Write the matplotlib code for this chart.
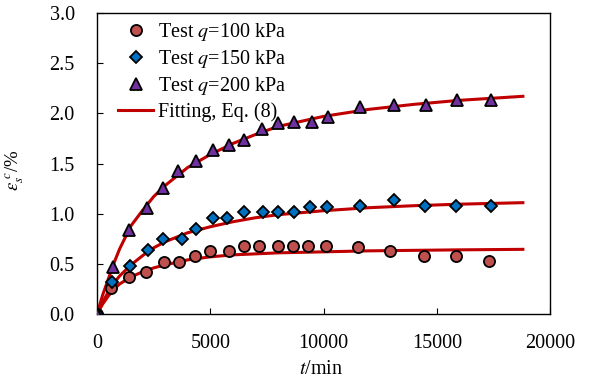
import matplotlib
matplotlib.use("Agg")
import matplotlib.pyplot as plt

plt.rcParams['font.family'] = ['Liberation Serif', 'DejaVu Serif']
plt.rcParams['mathtext.fontset'] = 'stix'

# Test data (t in min, strain in %)
t_100 = [0, 630, 1390, 2180, 2950, 3620, 4310, 4980, 5820, 6500, 7160, 7970, 8640, 9330, 10100, 11540, 12940, 14420, 15860, 17320]
e_100 = [0, 0.26, 0.37, 0.42, 0.52, 0.52, 0.58, 0.63, 0.63, 0.68, 0.68, 0.68, 0.68, 0.68, 0.68, 0.67, 0.63, 0.58, 0.58, 0.525]

t_150 = [0, 660, 1470, 2250, 2910, 3750, 4390, 5100, 5760, 6500, 7310, 7970, 8710, 9400, 10170, 11590, 13120, 14460, 15860, 17400]
e_150 = [0, 0.32, 0.48, 0.64, 0.745, 0.745, 0.85, 0.955, 0.955, 1.02, 1.02, 1.02, 1.02, 1.07, 1.07, 1.08, 1.137, 1.08, 1.08, 1.08]

t_200 = [0, 700, 1390, 2190, 2910, 3590, 4360, 5100, 5820, 6480, 7280, 8000, 8710, 9490, 10190, 11620, 13090, 14520, 15900, 17400]
e_200 = [0, 0.47, 0.84, 1.06, 1.26, 1.43, 1.53, 1.63, 1.68, 1.73, 1.84, 1.90, 1.91, 1.91, 1.96, 2.06, 2.08, 2.08, 2.13, 2.13]

# Fitting curves
t_fit = [0, 250, 500, 750, 1000, 1500, 2000, 2500, 3000, 4000, 5000, 6000, 7000, 8000, 10000, 12000, 14000, 16000, 18800]
f_100 = [0, 0.10, 0.18, 0.25, 0.30, 0.37, 0.42, 0.46, 0.49, 0.54, 0.57, 0.59, 0.60, 0.61, 0.62, 0.63, 0.635, 0.64, 0.645]
f_150 = [0, 0.12, 0.22, 0.31, 0.38, 0.49, 0.58, 0.66, 0.72, 0.81, 0.87, 0.92, 0.96, 0.99, 1.03, 1.06, 1.08, 1.095, 1.11]
f_200 = [0, 0.19, 0.35, 0.51, 0.65, 0.88, 1.03, 1.17, 1.28, 1.46, 1.59, 1.70, 1.79, 1.87, 1.97, 2.04, 2.09, 2.13, 2.17]

fig = plt.figure(figsize=(5.93, 3.83), dpi=100)
ax = fig.add_axes([0.1636, 0.180, 0.764, 0.786])

line_c = '#C00000'
ax.plot(t_fit, f_100, color=line_c, lw=2.2, zorder=2)
ax.plot(t_fit, f_150, color=line_c, lw=2.2, zorder=2)
ax.plot(t_fit, f_200, color=line_c, lw=2.2, zorder=2, label='Fitting, Eq. (8)')

ax.plot(t_100, e_100, 'o', ms=8, mfc='#C0504D', mec='black', mew=1.3, ls='none', zorder=3,
        label='Test $\\it{q}$=100 kPa')
ax.plot(t_150, e_150, 'D', ms=6.5, mfc='#0070C0', mec='black', mew=1.3, ls='none', zorder=3,
        label='Test $\\it{q}$=150 kPa')
ax.plot(t_200, e_200, '^', ms=8.5, mfc='#7030A0', mec='black', mew=1.3, ls='none', zorder=3,
        label='Test $\\it{q}$=200 kPa')

ax.set_xlim(0, 20000)
ax.set_ylim(0, 3.0)
ax.set_xticks([0, 5000, 10000, 15000, 20000])
ax.set_yticks([0, 0.5, 1.0, 1.5, 2.0, 2.5, 3.0])
ax.set_yticklabels(['0.0', '0.5', '1.0', '1.5', '2.0', '2.5', '3.0'])
ax.tick_params(direction='in', labelsize=14.5, length=4, width=0.8, top=False, right=False)
ax.tick_params(axis='x', pad=14)
ax.tick_params(axis='y', pad=16)
for s in ax.spines.values():
    s.set_linewidth(1.0)

ax.set_xlabel('$t$/min', fontsize=14.5)
ax.xaxis.set_label_coords(0.495, -0.152)
ax.set_ylabel('$\\varepsilon_s^{\\ c}$/%', fontsize=13.5)
ax.yaxis.set_label_coords(-0.157, 0.478)

h, l = ax.get_legend_handles_labels()
order = [1, 2, 3, 0]
ax.legend([h[i] for i in order], [l[i] for i in order], loc='upper left', frameon=False,
          fontsize=14.5, handlelength=1.75, handletextpad=0.25, labelspacing=0.25,
          borderaxespad=0.2, bbox_to_anchor=(0.02, 1.013))

fig.savefig('out.png', dpi=100)
